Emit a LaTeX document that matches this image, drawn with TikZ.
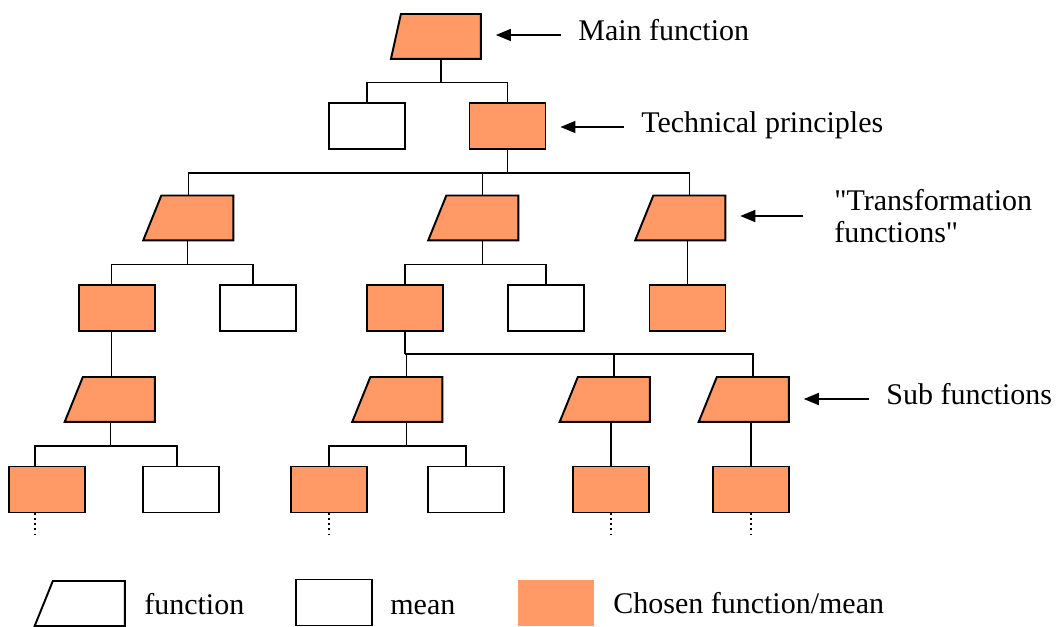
\documentclass[tikz,border=0pt]{standalone}
\usepackage{fontspec}
\setmainfont{Liberation Serif}[Ligatures=TeXOff]
\usetikzlibrary{shapes.geometric,arrows.meta}
\definecolor{chosen}{RGB}{255,153,102}
\tikzset{
  func/.style={draw, line width=1.1pt, trapezium, trapezium left angle=68,
    trapezium right angle=90, inner xsep=0.72cm, inner ysep=0.45cm,
    anchor=top side},
  mean/.style={draw, line width=1.1pt, rectangle, minimum width=1.52cm,
    minimum height=0.92cm, inner sep=0pt},
  pick/.style={fill=chosen},
  link/.style={line width=0.85pt},
  pointer/.style={line width=0.85pt, -{Triangle[length=0.3cm,width=0.24cm]},
    shorten >=0.28cm, shorten <=0.34cm},
  tag/.style={anchor=west, inner sep=0pt, text height=0.68em, text depth=0pt,
    font=\fontsize{17.07}{18.2}\selectfont, align=left}
}
\begin{document}
\begin{tikzpicture}[x=0.02cm, y=-0.02cm]
  \useasboundingbox (0,0) rectangle (1058,626);

  % main function and technical principles
  \node[func, pick, trapezium left angle=77.5, inner xsep=0.8cm] (main) at (441,13) {};
  \node[mean] (m1) at (367,126) {};
  \node[mean, pick] (tp) at (507.5,126) {};

  % transformation functions
  \node[func, pick] (t1) at (197.5,194.5) {};
  \node[func, pick] (t2) at (482.5,194.5) {};
  \node[func, pick] (t3) at (689.5,194.5) {};

  \node[mean, pick] (a1) at (117,308) {};
  \node[mean] (a2) at (258,308) {};
  \node[mean, pick] (b1) at (405,308) {};
  \node[mean] (b2) at (546,308) {};
  \node[mean, pick] (c1) at (687.5,308) {};

  % sub functions
  \node[func, pick] (s1) at (119,376) {};
  \node[func, pick] (s2) at (406.5,376) {};
  \node[func, pick] (s3) at (614,376) {};
  \node[func, pick] (s4) at (753,376) {};

  \node[mean, pick] (d1) at (47,489.5) {};
  \node[mean] (d2) at (181,489.5) {};
  \node[mean, pick] (e1) at (329,489.5) {};
  \node[mean] (e2) at (466,489.5) {};
  \node[mean, pick] (f1) at (611,489.5) {};
  \node[mean, pick] (g1) at (751,489.5) {};

  % tree lines
  \draw[link] (main.top side |- main.south) -- ++(0,22.7) coordinate (bus0);
  \draw[link] (m1.north) |- (bus0) -| (tp.north);

  \draw[link] (tp.south) -- ++(0,23) coordinate (bus1);
  \draw[link] ([xshift=-0.18cm]t1.top side) |- (bus1) -| (t3.top side);
  \draw[link] (t2.top side) -- (t2.top side |- bus1);

  \draw[link] ([xshift=-0.2cm]t1.top side |- t1.south) -- ++(0,23) coordinate (bus2);
  \draw[link] ([xshift=-0.11cm]a1.north) |- (bus2) -| ([xshift=-0.1cm]a2.north);
  \draw[link] (t2.top side |- t2.south) -- ++(0,23) coordinate (bus3);
  \draw[link] (b1.north) |- (bus3) -| (b2.north);
  \draw[link] (c1.north |- t3.south) -- (c1.north);

  \draw[link] ([xshift=-0.11cm]a1.south) coordinate (up) -- (up |- s1.top side);
  \draw[link] (b1.south) -- ++(0,22) coordinate (bus4);
  \draw[link] (s2.top side) |- (bus4) -| (s4.top side);
  \draw[link] (s3.top side) -- (s3.top side |- bus4);

  \draw[link] ([xshift=-0.17cm]s1.top side |- s1.south) -- ++(0,23) coordinate (bus5);
  \draw[link] ([xshift=-0.24cm]d1.north) |- (bus5) -| ([xshift=-0.08cm]d2.north);
  \draw[link] (s2.top side |- s2.south) -- ++(0,23) coordinate (bus6);
  \draw[link] (e1.north) |- (bus6) -| (e2.north);
  \draw[link] (f1.north |- s3.south) -- (f1.north);
  \draw[link] (g1.north |- s4.south) -- (g1.north);

  \draw[link, dotted] ([xshift=-0.24cm]d1.south) -- ++(0,22);
  \foreach \n in {e1,f1,g1}
    \draw[link, dotted] (\n.south) -- ++(0,22);

  % level labels
  \node[tag] (lmain) at (578,35) {Main function};
  \node[tag] (ltech) at (641,127) {Technical principles};
  \node[tag, text height=, text depth=] (ltrans) at (834,216) {"Transformation\\functions"};
  \node[tag] (lsub) at (886,399) {Sub functions};

  \draw[pointer] (lmain.west) -- (main.east |- lmain.west);
  \draw[pointer] (ltech.west) -- (tp.east |- ltech.west);
  \draw[pointer, shorten <=0.62cm] (ltrans.west) -- (t3.east |- ltrans.west);
  \draw[pointer] (lsub.west) -- (s4.east |- lsub.west);

  % legend
  \node[func] (kf) at (89,580) {};
  \node[tag] (kft) at (144,609) {function};
  \node[mean] (km) at (334,602.5) {};
  \node[tag] (kmt) at (390,609) {mean};
  \node[mean, pick, draw=none] (kc) at (556,602.5) {};
  \node[tag] (kct) at (613,608) {Chosen function/mean};
\end{tikzpicture}
\end{document}
